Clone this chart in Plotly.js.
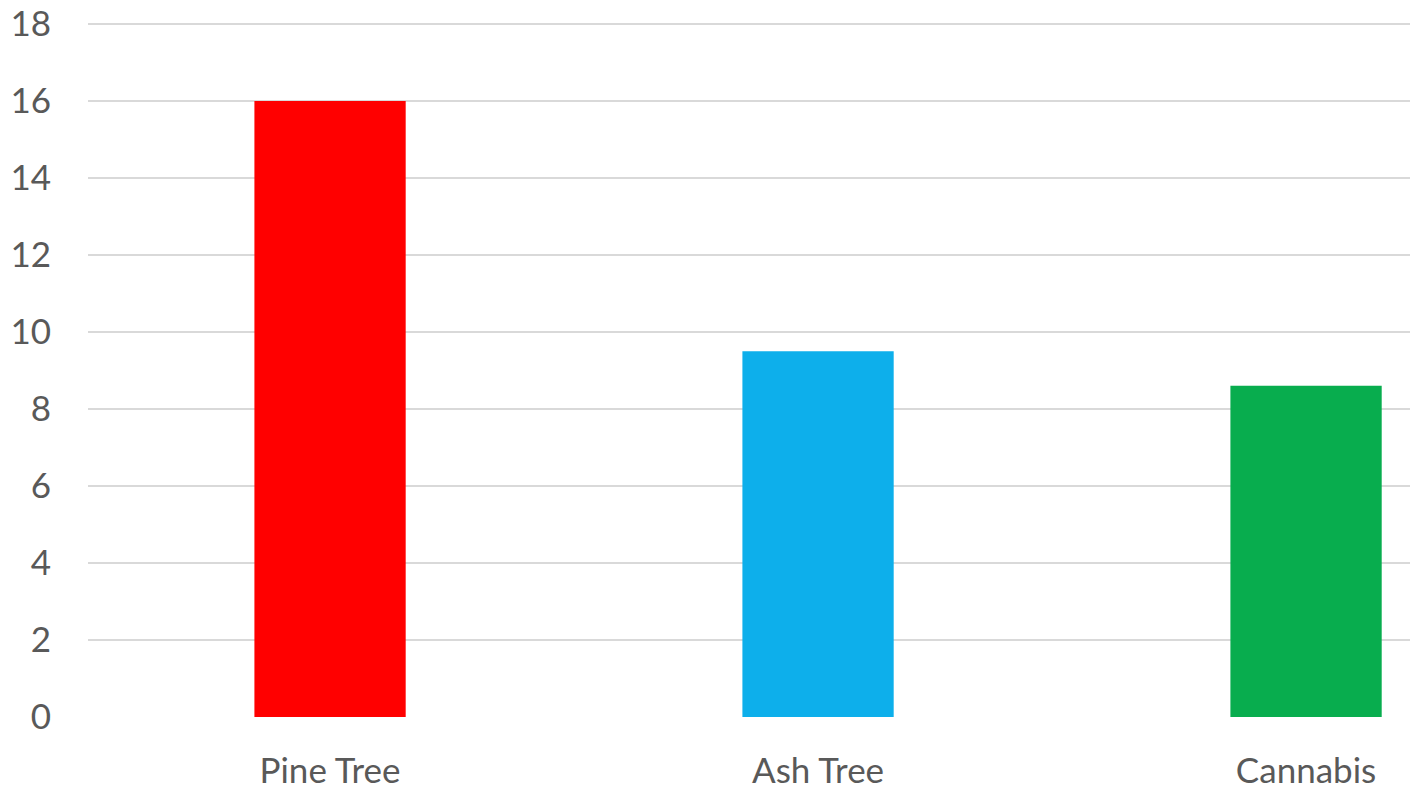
<!DOCTYPE html>
<html>
<head>
<meta charset="utf-8">
<script src="https://cdn.plot.ly/plotly-3.0.1.min.js"></script>
<style>html,body{margin:0;padding:0;background:#fff;}#chart{width:1410px;height:792px;}</style>
</head>
<body>
<div id="chart"></div>
<script>
const categories = ["Pine Tree", "Ash Tree", "Cannabis"];
const values = [16, 9.5, 8.6];
const barColors = ["#FF0000", "#0DAFEB", "#08AD4E"];
const yTicks = [0, 2, 4, 6, 8, 10, 12, 14, 16, 18];

const trace = {
  type: "bar",
  x: categories,
  y: values,
  width: 0.31,
  marker: {color: barColors, line: {width: 0}},
  hoverinfo: "x+y"
};

const layout = {
  width: 1410,
  height: 792,
  margin: {l: 88, r: 0, t: 22, b: 75},
  paper_bgcolor: "#ffffff",
  plot_bgcolor: "#ffffff",
  showlegend: false,
  font: {family: "Lato, 'Open Sans', sans-serif", size: 35, color: "#595959"},
  xaxis: {
    type: "category",
    range: [-0.496, 2.213],
    showgrid: false,
    zeroline: false,
    showline: false,
    ticks: "",
    ticklabelstandoff: 30,
    tickfont: {size: 35, color: "#595959"}
  },
  yaxis: {
    range: [0, 18.05],
    tickvals: yTicks,
    ticktext: yTicks.map(String),
    showgrid: true,
    gridcolor: "#d9d9d9",
    gridwidth: 2,
    zeroline: false,
    showline: false,
    ticks: "",
    ticklabelstandoff: 36,
    tickfont: {size: 35, color: "#595959"}
  },
  bargap: 0.69
};

Plotly.newPlot("chart", [trace], layout, {displayModeBar: false, staticPlot: true});
</script>
</body>
</html>
